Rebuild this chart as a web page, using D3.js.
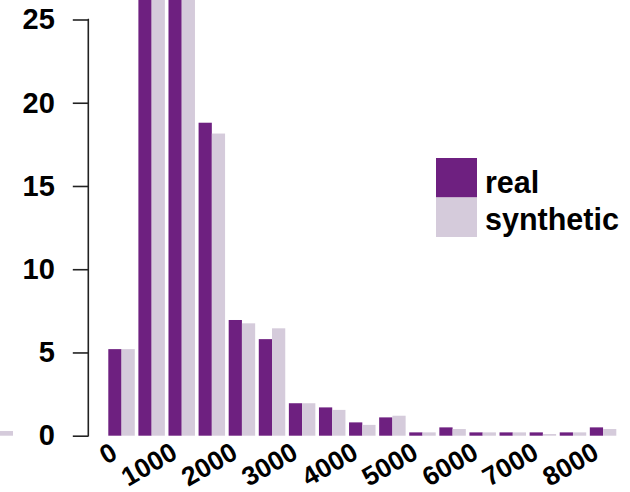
<!DOCTYPE html>
<html>
<head>
<meta charset="utf-8">
<script src="https://cdn.jsdelivr.net/npm/d3@7"></script>
<style>
  html, body { margin: 0; padding: 0; background: #fff; }
  svg { display: block; font-family: "Liberation Sans", Arial, sans-serif; font-weight: bold; }
</style>
</head>
<body>
<svg id="chart" width="630" height="492"></svg>
<script>
// Histogram bins (bin start, width 500) and percentage of records per bin
const binStarts = [0, 500, 1000, 1500, 2000, 2500, 3000, 3500, 4000, 4500, 5000, 5500, 6000, 6500, 7000, 7500, 8000];
const realValues = [5.2, 29.5, 28.5, 18.8, 6.95, 5.8, 1.95, 1.7, 0.8, 1.1, 0.2, 0.5, 0.2, 0.2, 0.2, 0.2, 0.5];
const syntheticValues = [5.2, 29, 28, 18.15, 6.75, 6.45, 1.95, 1.55, 0.65, 1.2, 0.2, 0.4, 0.2, 0.2, 0.1, 0.2, 0.4];
const seriesNames = ["real", "synthetic"];
const yTicks = [0, 5, 10, 15, 20, 25];
const xTickLabels = [0, 1000, 2000, 3000, 4000, 5000, 6000, 7000, 8000];
// edge of a neighbouring panel's bar, cut off at the left border
const strayBar = [0.28];

const colors = { real: "#6E2080", synthetic: "#D5CBDB" };

const svg = d3.select("#chart");

const x = d3.scaleBand()
  .domain(binStarts)
  .range([108.3, 616.3])
  .paddingInner(0.12)
  .paddingOuter(0);

const xSub = d3.scaleBand()
  .domain(seriesNames)
  .range([0, x.bandwidth()]);

const y = d3.scaleLinear()
  .domain([0, 25])
  .range([435.7, 19.5]);

// stray bar at the far left
svg.selectAll("rect.stray")
  .data(strayBar)
  .join("rect")
  .attr("class", "stray")
  .attr("x", 0)
  .attr("width", 13)
  .attr("y", d => y(d))
  .attr("height", d => y(0) - y(d))
  .attr("fill", colors.synthetic);

// grouped bars
const rows = binStarts.map((b, i) => ({ bin: b, real: realValues[i], synthetic: syntheticValues[i] }));

const groups = svg.append("g")
  .selectAll("g")
  .data(rows)
  .join("g")
  .attr("transform", d => `translate(${x(d.bin)},0)`);

groups.selectAll("rect")
  .data(d => seriesNames.map(s => ({ key: s, value: d[s] })))
  .join("rect")
  .attr("x", d => xSub(d.key))
  .attr("width", xSub.bandwidth())
  .attr("y", d => y(d.value))
  .attr("height", d => y(0) - y(d.value))
  .attr("fill", d => colors[d.key]);

// y axis
const yAxis = d3.axisLeft(y)
  .tickValues(yTicks)
  .tickSize(15.5)
  .tickPadding(18);

const yG = svg.append("g")
  .attr("transform", "translate(88.3,0)")
  .call(yAxis);
yG.select(".domain")
  .attr("d", `M-0.5,${y(25)}H0V${y(0)}H-0.5`)
  .attr("stroke", "#222")
  .attr("stroke-width", 1.6);
yG.selectAll(".tick line").attr("stroke", "#222").attr("stroke-width", 1.6);
yG.selectAll(".tick text")
  .attr("font-size", 29)
  .attr("font-weight", "bold")
  .attr("font-family", "Liberation Sans, Arial, sans-serif")
  .attr("fill", "#000");

// rotated x labels, one every two bins
svg.append("g")
  .selectAll("text")
  .data(xTickLabels)
  .join("text")
  .attr("transform", d => {
    const cx = x(d) + xSub("real") + xSub.bandwidth() / 2 + 4;
    return `translate(${cx},457.5) rotate(-30)`;
  })
  .attr("text-anchor", "end")
  .attr("font-size", 26.5)
  .attr("fill", "#000")
  .text(d => d);

// legend
const legend = svg.append("g").attr("transform", "translate(436,158)");
const swatchH = 39.5;
legend.selectAll("rect")
  .data(seriesNames)
  .join("rect")
  .attr("x", 0)
  .attr("y", (d, i) => i * swatchH)
  .attr("width", 41)
  .attr("height", swatchH)
  .attr("fill", d => colors[d]);
legend.selectAll("text")
  .data(seriesNames)
  .join("text")
  .attr("x", 49)
  .attr("y", (d, i) => 34.7 + i * 37.3)
  .attr("font-size", 30.5)
  .attr("fill", "#000")
  .text(d => d);
</script>
</body>
</html>
